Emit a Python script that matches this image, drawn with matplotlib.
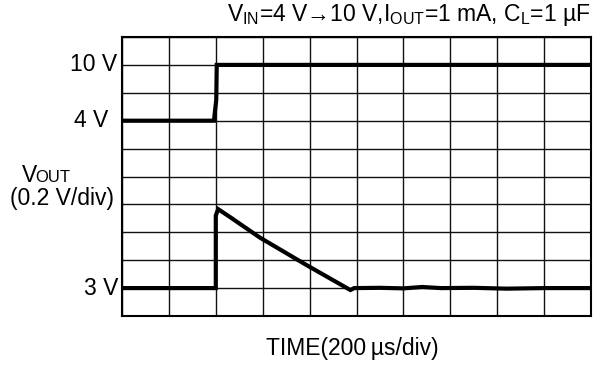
import matplotlib
matplotlib.use("Agg")
import matplotlib.pyplot as plt

plt.rcParams['font.family'] = ['Liberation Sans', 'DejaVu Sans']
plt.rcParams['mathtext.fontset'] = 'custom'
plt.rcParams['mathtext.rm'] = 'Liberation Sans'
plt.rcParams['mathtext.it'] = 'Liberation Sans'

# traces, in grid divisions (x: 200 us/div, y: divisions from bottom)
vin_t = [0, 1.96, 2.01, 2.02, 10]
vin_v = [7.0, 7.0, 7.75, 9.0, 9.0]

vout_t = [0, 1.98, 2.0, 2.0, 2.05, 2.3, 2.94, 3.93, 4.87, 4.95, 5.5, 6.0, 6.4, 6.8, 7.5, 8.2, 9.0, 10]
vout_v = [1.0, 1.0, 1.0, 3.6, 3.83, 3.55, 2.81, 1.83, 0.93, 1.0, 1.01, 0.99, 1.04, 1.0, 1.01, 0.98, 1.0, 1.0]

level_labels = ['10 V', '4 V', '3 V']
level_pos = [9.0, 7.0, 1.0]

fs = 16.5

fig = plt.figure(figsize=(5.93, 3.65), dpi=100)
ax = fig.add_axes([122/593, 1 - 316/365, 469/593, 279/365])

ax.set_xlim(0, 10)
ax.set_ylim(0, 10)
ax.set_xticks(range(11))
ax.set_yticks(range(11))
ax.tick_params(length=0, labelbottom=False, labelleft=False)
ax.grid(True, color='#111111', lw=1.0)
for s in ax.spines.values():
    s.set_linewidth(1.5)

ax.plot(vin_t, vin_v, color='black', lw=3.0, solid_joinstyle='miter')
ax.plot(vout_t, vout_v, color='black', lw=3.0, solid_joinstyle='miter')

# level labels left of the graticule
offsets = [-0.1, -0.3, -0.08]
for lab, y, dx in zip(level_labels, level_pos, offsets):
    ax.text(dx, y, lab, ha='right', va='center', fontsize=fs)

fig.text(591/593, 1 - 15/365,
         r'$\mathregular{V_{IN}}$=4 V→10 V,$\mathregular{I_{OUT}}$=1 mA, $\mathregular{C_L}$=1 µF',
         ha='right', va='center', fontsize=fs)

fig.text(22/593, 1 - 176/365, 'V', ha='left', va='center', fontsize=fs)
fig.text(35/593, 1 - 177.5/365, 'OUT', ha='left', va='center', fontsize=12)
fig.text(62.5/593, 1 - 198/365, '(0.2 V/div)', ha='center', va='center', fontsize=fs)

fig.text(352.5/593, 1 - 348/365, 'TIME(200\u2009µs/div)', ha='center', va='center', fontsize=fs)

fig.savefig('out.png', dpi=100)
